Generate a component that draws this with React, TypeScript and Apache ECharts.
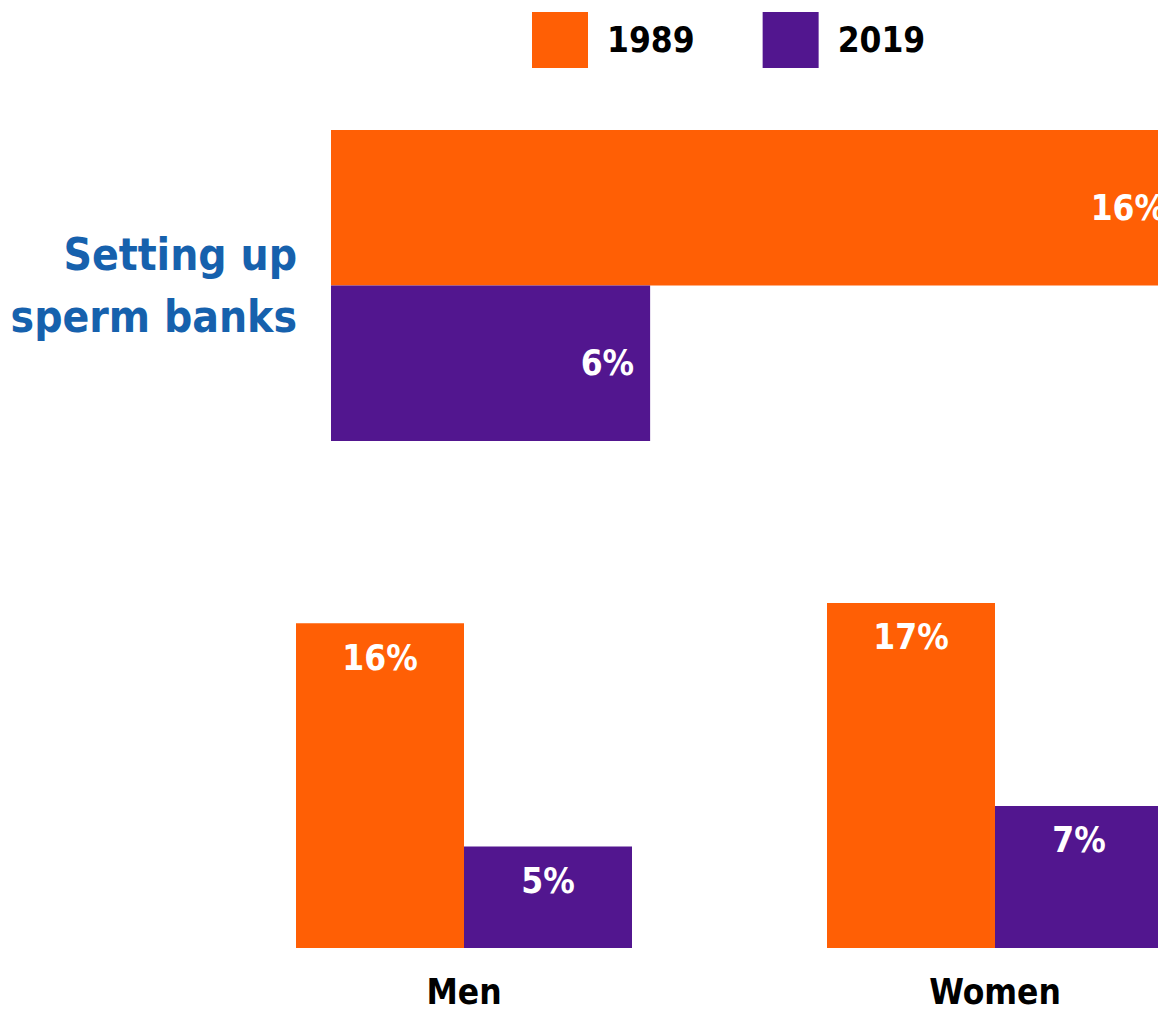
import React, { useEffect, useRef } from "react";
import * as echarts from "echarts";

const seriesNames = ["1989", "2019"];
const topCategory = ["Setting up\nsperm banks"];
const top1989 = [16];
const top2019 = [6];
const groupCategories = ["Men", "Women"];
const group1989 = [16, 17];
const group2019 = [5, 7];

const ORANGE = "#ff5f05";
const PURPLE = "#52168f";
const BLUE = "#1661ad";
const FONT = "'Liberation Sans Narrow', 'DejaVu Sans Condensed', 'Arial Narrow', sans-serif";

export default function App() {
  const ref = useRef<HTMLDivElement>(null);
  useEffect(() => {
    if (!ref.current) return;
    const chart = echarts.init(ref.current, undefined, { renderer: "svg" });
    const barLabel = (pos: string, dist: number) => ({
      show: true,
      position: pos,
      distance: dist,
      formatter: "{c}%",
      color: "#fff",
      fontFamily: FONT,
      fontWeight: "bold",
      fontSize: 35,
    });
    chart.setOption({
      animation: false,
      legend: {
        data: seriesNames,
        left: 527,
        top: 7,
        itemWidth: 56,
        itemHeight: 56,
        itemGap: 68,
        icon: "rect",
        textStyle: {
          fontFamily: FONT,
          fontWeight: "bold",
          fontSize: 35,
          color: "#000",
          padding: [0, 0, 0, 14],
        },
      },
      grid: [
        { left: 331, top: 130, width: 851, height: 311, outerBoundsMode: "none", containLabel: false },
        { left: 198.5, top: 542, width: 1062, height: 406, outerBoundsMode: "none", containLabel: false },
      ],
      xAxis: [
        { type: "value", gridIndex: 0, min: 0, max: 16, show: false },
        {
          type: "category",
          gridIndex: 1,
          data: groupCategories,
          axisLine: { show: false },
          axisTick: { show: false },
          axisLabel: {
            margin: 27,
            fontFamily: FONT,
            fontWeight: "bold",
            fontSize: 35,
            lineHeight: 34,
            color: "#000",
          },
        },
      ],
      yAxis: [
        {
          type: "category",
          gridIndex: 0,
          data: topCategory,
          inverse: true,
          axisLine: { show: false },
          axisTick: { show: false },
          axisLabel: {
            margin: 34,
            fontFamily: FONT,
            fontWeight: "bold",
            fontSize: 44,
            lineHeight: 62,
            color: BLUE,
            align: "right",
          },
        },
        { type: "value", gridIndex: 1, min: 0, max: 20, show: false },
      ],
      series: [
        {
          name: "1989",
          type: "bar",
          xAxisIndex: 0,
          yAxisIndex: 0,
          data: top1989,
          barGap: 0,
          barCategoryGap: 0,
          itemStyle: { color: ORANGE },
          label: barLabel("insideRight", 16),
        },
        {
          name: "2019",
          type: "bar",
          xAxisIndex: 0,
          yAxisIndex: 0,
          data: top2019,
          barGap: 0,
          barCategoryGap: 0,
          itemStyle: { color: PURPLE },
          label: barLabel("insideRight", 16),
        },
        {
          name: "1989",
          type: "bar",
          xAxisIndex: 1,
          yAxisIndex: 1,
          data: group1989,
          barWidth: 168,
          barGap: 0,
          itemStyle: { color: ORANGE },
          label: barLabel("insideTop", 17),
        },
        {
          name: "2019",
          type: "bar",
          xAxisIndex: 1,
          yAxisIndex: 1,
          data: group2019,
          barWidth: 168,
          barGap: 0,
          itemStyle: { color: PURPLE },
          label: barLabel("insideTop", 17),
        },
      ],
    });
    return () => chart.dispose();
  }, []);
  return (
    <div
      style={{
        position: "fixed",
        left: 0,
        top: 0,
        width: 1158,
        height: 1012,
        overflow: "hidden",
        background: "#fff",
      }}
    >
      <div ref={ref} style={{ width: 1300, height: 1012 }} />
    </div>
  );
}
